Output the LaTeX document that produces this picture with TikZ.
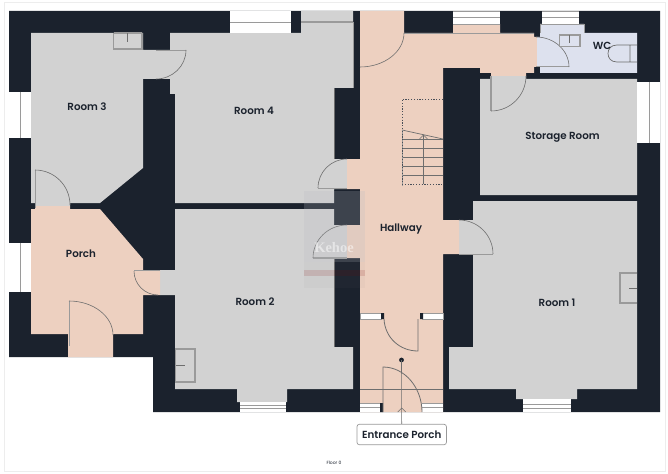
\documentclass[tikz,border=0pt]{standalone}
\usepackage{fontspec}
\setmainfont{Poppins}
\newfontfamily\labelfont{Poppins SemiBold}
\newfontfamily\markfont{Liberation Serif}
\usetikzlibrary{calc,arrows.meta}
\definecolor{wallc}{HTML}{1B222D}
\definecolor{roomc}{HTML}{D2D2D2}
\definecolor{hallc}{HTML}{EDD0C0}
\definecolor{wcc}{HTML}{DDE1EE}
\definecolor{linec}{HTML}{6E6E6E}
\definecolor{fixc}{HTML}{9A9A9A}
\tikzset{
  room/.style={fill=roomc,draw=none},
  hall/.style={fill=hallc,draw=none},
  wall/.style={fill=wallc,draw=none},
  glass/.style={fill=white,draw=none},
  glassline/.style={draw=fixc,line width=0.7pt},
  swing/.style={draw=linec,line width=0.6pt},
  leaf/.style={draw=fixc,line width=1.4pt},
  fixture/.style={draw=fixc,line width=1.5pt},
  tick/.style={draw=linec,line width=0.7pt},
  lbl/.style={font=\labelfont\fontsize{10.3}{12}\selectfont,text=wallc,inner sep=0pt},
}
\newcommand{\doorarc}[3]{\draw[swing] #1 .. controls ($#1!0.552!#3$) and ($#2!0.552!#3$) .. #2;}
\begin{document}
\begin{tikzpicture}[x=1pt,y=-1pt]
\useasboundingbox (0,0) rectangle (668,473);
\fill[white] (0,0) rectangle (668,473);
\draw[draw=black!7,line width=0.8pt] (4,2) rectangle (665,471);
% outer walls
\fill[wall] (9,11) -- (660,11) -- (660,412) -- (153,412) -- (153,357) -- (9,357) -- cycle;
% rooms
\fill[room] (31,33) -- (143,33) -- (143,50) -- (170,50) -- (170,79) -- (143,79) -- (143,168) -- (100,203) -- (70,203) -- (70,206) -- (35,206) -- (35,203) -- (31,203) -- cycle;
\fill[room] (170,33) -- (301,33) -- (301,11) -- (353,11) -- (353,88) -- (334,88) -- (334,159) -- (347,159) -- (347,189) -- (334,189) -- (334,203) -- (175,203) -- (175,94) -- (170,94) -- cycle;
\fill[room] (175,209) -- (334,209) -- (334,225) -- (347,225) -- (347,258) -- (334,258) -- (334,347) -- (353,347) -- (353,389) -- (287,389) -- (287,402) -- (237,402) -- (237,389) -- (175,389) -- (175,295) -- (160,295) -- (160,270) -- (175,270) -- cycle;
\fill[room] (480,79) -- (491,79) -- (491,76) -- (526,76) -- (526,79) -- (637,79) -- (637,195) -- (480,195) -- cycle;
\fill[room] (473,201) -- (637,201) -- (637,389) -- (577,389) -- (577,399) -- (516,399) -- (516,389) -- (449,389) -- (449,347) -- (473,347) -- (473,254) -- (459,254) -- (459,220) -- (473,220) -- cycle;
% pink areas
\fill[hall] (31,209) -- (35,209) -- (35,206) -- (70,206) -- (70,209) -- (100,209) -- (143,259) -- (143,270) -- (160,270) -- (160,295) -- (143,295) -- (143,334) -- (113,334) -- (113,357) -- (68,357) -- (68,334) -- (31,334) -- cycle;
\fill[hall] (360,11) -- (404,11) -- (404,33) -- (453,33) -- (453,24) -- (500,24) -- (500,33) -- (534,33) -- (534,37) -- (537,37) -- (537,67) -- (534,67) -- (534,73) -- (526,73) -- (526,76) -- (491,76) -- (491,73) -- (480,73) -- (480,68) -- (443,68) -- (443,220) -- (459,220) -- (459,254) -- (443,254) -- (443,412) -- (360,412) -- (360,258) -- (347,258) -- (347,225) -- (360,225) -- (360,189) -- (347,189) -- (347,159) -- (360,159) -- cycle;
% WC
\fill[wcc] (537,37) -- (540,37) -- (540,33) -- (540,24) -- (584,24) -- (584,33) -- (637,33) -- (637,73) -- (540,73) -- (540,67) -- (537,67) -- cycle;
\draw[glassline,line width=0.5pt] (540,33) -- (540,24) -- (584,24) -- (584,33);
% windows
\fill[glass] (230,11) rectangle (291,33);
\draw[glassline] (230,22) -- (291,22);
\fill[glass] (9,92) rectangle (31,138);
\draw[glassline] (20,92) -- (20,138);
\fill[glass] (9,243) rectangle (31,292);
\draw[glassline] (20,243) -- (20,292);
\fill[glass] (637,82) rectangle (660,143);
\draw[glassline] (649,82) -- (649,143);
\fill[glass] (453,11) rectangle (500,24);
\draw[glassline] (453,11.5) -- (500,11.5) (453,17) -- (500,17) (453,24) -- (500,24);
\draw[glassline,line width=0.5pt] (404,33) -- (534,33);
\fill[glass] (542,11) rectangle (579,24);
\draw[glassline] (542,11.5) -- (579,11.5) (542,17) -- (579,17);
\fill[glass] (240,402) rectangle (286,412);
\draw[glassline] (240,405) -- (286,405) (240,408.5) -- (286,408.5);
\fill[glass] (523,399) rectangle (571,412);
\draw[glassline] (523,404) -- (571,404) (523,408) -- (571,408);
\fill[glass] (360,403) rectangle (381,412);
\draw[glassline] (360,403) -- (381,403) (360,407.5) -- (381,407.5);
\fill[glass] (422,403) rectangle (443,412);
\draw[glassline] (422,403) -- (443,403) (422,407.5) -- (443,407.5);
\fill[glass] (360,313) rectangle (381,319);
\draw[glassline,line width=0.5pt] (360,313) rectangle (381,319);
\fill[glass] (422,313) rectangle (443,319);
\draw[glassline,line width=0.5pt] (422,313) rectangle (443,319);
\fill[wall] (381,313) rectangle (384,319) (420,313) rectangle (423,319) (380,403) rectangle (383,412);
% gray edges
\draw[glassline,line width=1.2pt] (301,22) -- (353,22);
\draw[glassline] (353,22) -- (353,88);
\draw[tick,line width=0.5pt] (334,88) -- (334,159) (334,258) -- (334,347);
\draw[tick] (360,389) -- (443,389);
% doors
\draw[leaf] (156,50.5) -- (186,50.5);
\doorarc{(186,50)}{(156,79)}{(186,79)}
\draw[leaf,line width=1pt] (35,170) -- (35,208);
\doorarc{(35,170)}{(70,205)}{(70,170)}
\draw[leaf,line width=1pt] (69,301) -- (69,346);
\doorarc{(69,301)}{(113,335)}{(113,301)}
\draw[leaf,line width=0.8pt] (134,270.5) -- (160,270.5);
\doorarc{(134,271)}{(158,295)}{(134,295)}
\draw[leaf,line width=0.8pt] (318,188) -- (347,188);
\doorarc{(347,159)}{(318,188)}{(318,159)}
\draw[leaf] (313,258) -- (347,258);
\doorarc{(347,225)}{(313,258)}{(313,225)}
\doorarc{(404,33)}{(360,67)}{(404,67)}
\draw[leaf] (536,66.5) -- (569,66.5);
\doorarc{(536,37)}{(569,67)}{(569,37)}
\draw[leaf] (491,76) -- (491,111);
\doorarc{(526,76)}{(491,111)}{(526,111)}
\draw[leaf,line width=0.8pt] (459,254) -- (493,254);
\doorarc{(459,220)}{(493,254)}{(493,220)}
\draw[swing,line width=0.8pt] (384,319) .. controls (385,338) and (400,351) .. (418,351) -- (418,319);
\draw[swing,line width=0.8pt] (383,412) -- (383,367) .. controls (405,367) and (422,388) .. (422,412);
% stairs
\foreach \yy in {139,148,157,166,175} \draw[tick] (402,\yy) -- (443,\yy);
\draw[tick] (402,130) -- (443,139);
\draw[draw=linec,line width=0.7pt] (423.5,184) -- (423.5,135);
\draw[draw=linec,line width=0.6pt] (419.5,139) -- (423.5,135) -- (427.5,139);
\draw[glassline,line width=1pt] (402,130) -- (402,186);
\draw[draw=wallc!80,line width=0.9pt,dash pattern=on 1.2pt off 1.6pt] (443,99) -- (402,99) -- (402,186) (402,184) -- (443,184);
% fixtures
\draw[fixture] (113.5,33) -- (113.5,49) -- (142,49) -- (142,33) (113.5,33) -- (142,33);
\draw[tick] (127,33) -- (127,42);
\draw[fixture] (559.5,35) rectangle (580,46.5);
\draw[tick] (569.5,35) -- (569.5,43);
\draw[fixture] (175.5,349) -- (195,349) -- (195,382) -- (175.5,382) -- cycle;
\draw[tick] (176,365.5) -- (185,365.5);
\draw[fixture] (637,273) -- (620,273) -- (620,303) -- (637,303);
\draw[tick] (629,288.5) -- (637,288.5);
\draw[tick] (637,45) -- (617,45) .. controls (611,45) and (608,49) .. (608,53.5) .. controls (608,58) and (611,62) .. (617,62) -- (637,62) (630,45) -- (630,62);
% labels
\node[lbl] (r3) at (87,106.5) {Room 3};
\node[lbl] (r4) at (254,111) {Room 4};
\node[lbl] (porch) at (81,253.5) {Porch};
\node[lbl] (r2) at (255,302) {Room 2};
\node[lbl] (r1) at (557,303) {Room 1};
\node[lbl] (hallway) at (401,229.5) {Hallway};
\node[lbl] (storage) at (562.5,137.5) {Storage Room};
\node[lbl] (wc) at (602,46) {WC};
\node[font=\fontsize{4.5}{5}\selectfont,text=wallc,inner sep=0pt] (floor) at (334,462.5) {Floor 0};
% entrance
\coordinate (dot) at (401.5,360);
\node[lbl,fill=white,draw=linec!70,line width=0.7pt,rounded corners=2.5pt,minimum width=89.5pt,minimum height=20.5pt] (ep) at (401.7,434.5) {Entrance Porch};
\fill[wallc] (dot) circle (2.4pt);
\draw[swing] (ep.north) -- (dot);
\draw[swing] (397.7,412) -- (401.7,408) -- (405.7,412);
% watermark
\fill[wcc!60!gray,opacity=0.22] (304,191) rectangle (365,262);
\fill[gray,opacity=0.05] (304,262) rectangle (365,288);
\fill[red!50!black,opacity=0.13] (304,270) rectangle (365,276);
\node[font=\markfont\bfseries\fontsize{14.5}{15}\selectfont,text=white,opacity=0.5,inner sep=0pt] (mark) at (334,248) {Kehoe};
\end{tikzpicture}
\end{document}
